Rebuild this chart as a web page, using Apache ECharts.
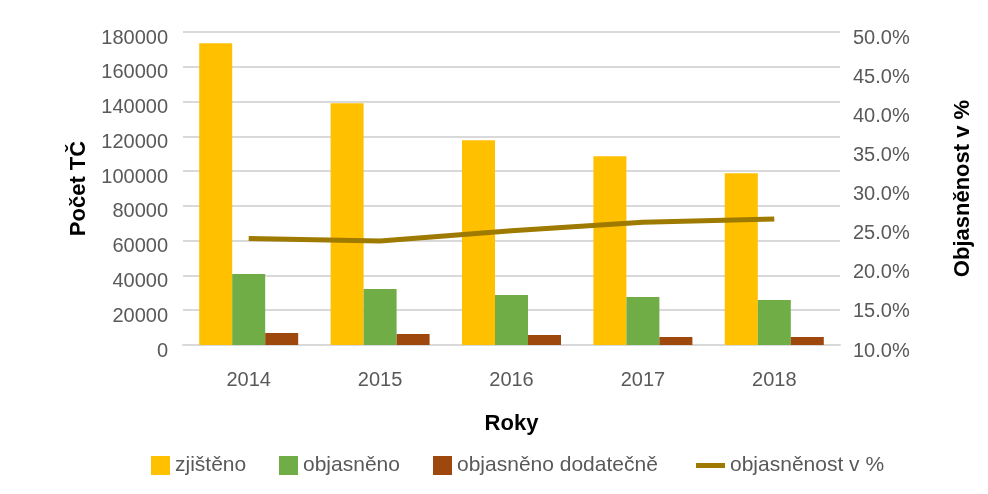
<!DOCTYPE html>
<html>
<head>
<meta charset="utf-8">
<script src="https://cdn.jsdelivr.net/npm/echarts@6/dist/echarts.min.js"></script>
<style>html,body{margin:0;padding:0;background:#fff}#c{width:988px;height:494px}</style>
</head>
<body>
<div id="c"></div>
<script>
const categories = ['2014', '2015', '2016', '2017', '2018'];
const zjisteno = [173500, 139000, 117800, 108600, 98800];
const objasneno = [40800, 32200, 28700, 27600, 25900];
const objasnenoDodatecne = [6900, 6300, 5700, 4600, 4600];
const objasnenostPct = [23.6, 23.3, 24.6, 25.7, 26.1];
const seriesNames = ['zjištěno', 'objasněno', 'objasněno dodatečně', 'objasněnost v %'];
const colors = ['#FFC000', '#70AD47', '#9E480E', '#9E7A00'];

const FONT = 'Liberation Sans';
const chart = echarts.init(document.getElementById('c'), null, {renderer: 'canvas'});
const legendText = {color: '#595959', fontFamily: FONT, fontSize: 21, lineHeight: 19, padding: [12, 0, 0, 0]};
const legendLefts = [151, 279, 433, 696];
const legends = seriesNames.map((n, i) => ({
  data: [n],
  left: legendLefts[i],
  top: 450,
  padding: 0,
  itemWidth: i === 3 ? 29 : 19,
  itemHeight: i === 3 ? 5 : 19,
  icon: 'rect',
  selectedMode: false,
  textStyle: legendText
}));

chart.setOption({
  animation: false,
  color: colors,
  legend: legends,
  grid: {left: 183, right: 148, top: 32, bottom: 149},
  xAxis: {
    type: 'category',
    data: categories,
    axisTick: {show: false},
    axisLine: {lineStyle: {color: '#d9d9d9', width: 2}},
    axisLabel: {color: '#595959', fontFamily: FONT, fontSize: 20, margin: 25},
    name: 'Roky',
    nameLocation: 'middle',
    nameGap: 68,
    nameTextStyle: {color: '#000', fontFamily: FONT, fontSize: 22, fontWeight: 'bold'}
  },
  yAxis: [{
    type: 'value',
    min: 0, max: 180000, interval: 20000,
    axisLine: {show: false},
    axisTick: {show: false},
    splitLine: {lineStyle: {color: '#d9d9d9', width: 2}},
    axisLabel: {color: '#595959', fontFamily: FONT, fontSize: 20, margin: 15,
      verticalAlign: 'top', lineHeight: 12, formatter: v => String(v)},
    name: 'Počet TČ',
    nameLocation: 'middle',
    nameRotate: 90,
    nameGap: 93,
    nameTextStyle: {color: '#000', fontFamily: FONT, fontSize: 22, fontWeight: 'bold'}
  }, {
    type: 'value',
    min: 10, max: 50, interval: 5,
    position: 'right',
    axisLine: {show: false},
    axisTick: {show: false},
    splitLine: {show: false},
    axisLabel: {color: '#595959', fontFamily: FONT, fontSize: 20, margin: 13,
      verticalAlign: 'top', lineHeight: 12, formatter: v => v.toFixed(1) + '%'},
    name: 'Objasněnost v %',
    nameLocation: 'middle',
    nameRotate: 90,
    nameGap: 112,
    nameTextStyle: {color: '#000', fontFamily: FONT, fontSize: 22, fontWeight: 'bold'}
  }],
  series: [
    {name: seriesNames[0], type: 'bar', data: zjisteno, barWidth: 33, barGap: '0%', itemStyle: {color: colors[0]}},
    {name: seriesNames[1], type: 'bar', data: objasneno, barWidth: 33, barGap: '0%', itemStyle: {color: colors[1]}},
    {name: seriesNames[2], type: 'bar', data: objasnenoDodatecne, barWidth: 33, barGap: '0%', itemStyle: {color: colors[2]}},
    {name: seriesNames[3], type: 'line', yAxisIndex: 1, data: objasnenostPct, showSymbol: false, symbol: 'none',
      lineStyle: {color: colors[3], width: 5}, itemStyle: {color: colors[3]}}
  ]
});
</script>
</body>
</html>
